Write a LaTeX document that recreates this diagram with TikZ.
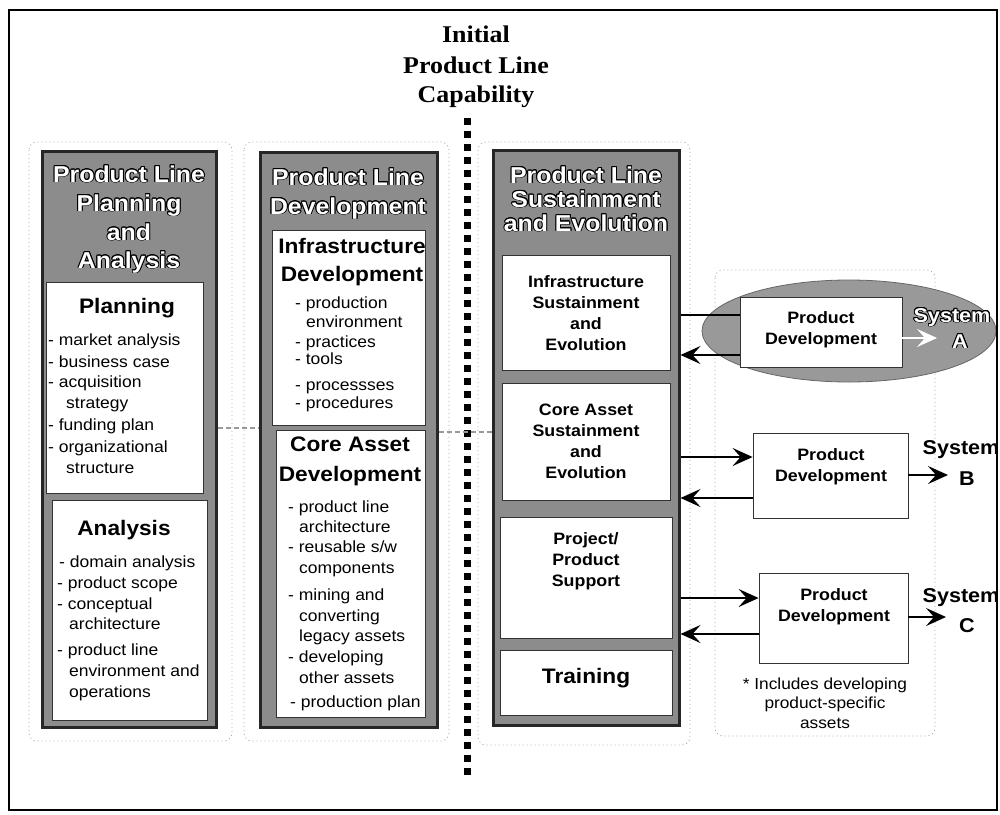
\documentclass[tikz,border=0pt]{standalone}
\usepackage{fontspec}
\setsansfont[FakeStretch=1.08]{Liberation Sans}
\newfontfamily\titlefont[FakeStretch=1.08]{Liberation Serif}
\usepackage{contour}
\contourlength{0.9pt}
\usetikzlibrary{arrows.meta,fit,shapes.geometric}
\newcommand\fsz[2]{\fontsize{#1}{#2}\selectfont}
\begin{document}
\begin{tikzpicture}[x=1pt,y=-1pt,
  col/.style={draw=black!85, line width=3pt, fill=black!45, inner sep=0pt},
  wbox/.style={draw=black!80, line width=0.8pt, fill=white, inner sep=0pt},
  hdr/.style={font=\sffamily\bfseries\fsz{23}{28}, text=white, anchor=base, inner sep=0pt},
  ttl/.style={font=\sffamily\bfseries\fsz{21}{28}, anchor=base, inner sep=0pt},
  itm/.style={font=\sffamily\fsz{16.2}{20}, anchor=base west, inner sep=0pt},
  ctr/.style={font=\sffamily\bfseries\fsz{16.5}{21}, align=center, anchor=north, inner sep=0pt},
  sys/.style={font=\sffamily\bfseries\fsz{20}{24}, anchor=base, inner sep=0pt},
  ttxt/.style={font=\titlefont\bfseries\fsz{24}{30}, anchor=base, inner sep=0pt},
  faint/.style={draw=black!35, line width=0.8pt, dash pattern=on 1pt off 3pt, rounded corners=8pt},
  conn/.style={line width=2.2pt, -{Stealth[length=20pt,width=18pt,inset=8pt]}},
  plainln/.style={line width=2.2pt},
  tabln/.style={draw=black!40, line width=2.5pt, dash pattern=on 5pt off 3pt}
]
\useasboundingbox (0,0) rectangle (1000,814);

% faint dotted regions
\draw[faint] (29,142) rectangle (232,741);
\draw[faint] (244,142) rectangle (449,741);
\draw[faint] (478,142) rectangle (690,745);
\draw[faint] (715,270) rectangle (935,736);

% initial capability marker
\node[ttxt] (t1) at (476,42) {Initial};
\node[ttxt] (t2) at (476,73) {Product Line};
\node[ttxt] (t3) at (476,102) {Capability};
\coordinate (dtop) at (467,118);
\coordinate (dbot) at (467,778);
\draw[line width=7pt, dash pattern=on 7pt off 6pt] (dtop) -- (dbot);

% ---------- column 1 ----------
\node[col, fit={(42,151) (216,727)}] (c1) {};
\node[hdr] (h1a) at (129,182) {\contour{black}{Product Line}};
\node[hdr] (h1b) at (129,211) {\contour{black}{Planning}};
\node[hdr] (h1c) at (129,240) {\contour{black}{and}};
\node[hdr] (h1d) at (129,268) {\contour{black}{Analysis}};
\node[wbox, fit={(46,282) (203,493)}] (plan) {};
\node[wbox, fit={(52,500) (207,720)}] (anal) {};
\node[ttl] (plant) at (127,313) {Planning};
\foreach \t/\x/\y [count=\i] in {{- market analysis}/48/345, {- business case}/48/367,
   {- acquisition}/48/387, {strategy}/66/408, {- funding plan}/48/430,
   {- organizational}/48/452, {structure}/66/473}
  \node[itm] (pl\i) at (\x,\y) {\t};
\node[ttl] (analt) at (124,535) {Analysis};
\foreach \t/\x/\y [count=\i] in {{- domain analysis}/59/567, {- product scope}/57/588,
   {- conceptual}/57/609, {architecture}/69/629, {- product line}/57/655,
   {environment and}/69/676, {operations}/69/697}
  \node[itm] (an\i) at (\x,\y) {\t};

% ---------- column 2 ----------
\node[col, fit={(260,152) (437,727)}] (c2) {};
\node[hdr] (h2a) at (348,185) {\contour{black}{Product Line}};
\node[hdr] (h2b) at (348,214) {\contour{black}{Development}};
\node[wbox, fit={(272,230) (425,425)}] (infd) {};
\node[wbox, fit={(276,430) (425,717)}] (cad) {};
\node[ttl] (infda) at (352,253) {Infrastructure};
\node[ttl] (infdb) at (352,281) {Development};
\foreach \t/\x/\y [count=\i] in {{- production}/295/308, {environment}/306/327,
   {- practices}/295/347, {- tools}/295/364, {- processses}/295/390, {- procedures}/295/408}
  \node[itm] (id\i) at (\x,\y) {\t};
\node[ttl] (cada) at (350,451) {Core Asset};
\node[ttl] (cadb) at (350,481) {Development};
\foreach \t/\x/\y [count=\i] in {{- product line}/288/512, {architecture}/299/532,
   {- reusable s/w}/288/552, {components}/299/573, {- mining and}/288/600,
   {converting}/299/621, {legacy assets}/299/641, {- developing}/288/662,
   {other assets}/299/683, {- production plan}/290/707}
  \node[itm] (cd\i) at (\x,\y) {\t};

% ---------- column 3 ----------
\node[col, fit={(493,150) (679,725)}] (c3) {};
\node[hdr] (h3a) at (586,183) {\contour{black}{Product Line}};
\node[hdr] (h3b) at (586,207) {\contour{black}{Sustainment}};
\node[hdr] (h3c) at (586,231) {\contour{black}{and Evolution}};
\node[wbox, fit={(502,255) (670,370)}] (isb) {};
\node[wbox, fit={(502,383) (670,500)}] (csb) {};
\node[wbox, fit={(500,517) (672,638)}] (ppb) {};
\node[wbox, fit={(500,650) (672,715)}] (trb) {};
\node[ctr] (ist) at (586,272.3) {\strut Infrastructure\\Sustainment\\and\\Evolution};
\node[ctr] (cst) at (586,400.3) {\strut Core Asset\\Sustainment\\and\\Evolution};
\node[ctr] (ppt) at (586,529.3) {\strut Project/\\Product\\Support};
\node[ttl] (trt) at (586,683) {Training};

% gray tabs between columns
\draw[tabln] (c1.east |- 0,428) -- (c2.west |- 0,428);
\draw[tabln] (c2.east |- 0,432) -- (c3.west |- 0,432);

% ---------- product development ----------
\node[ellipse, fill=black!40, draw=black!60, line width=0.8pt, minimum width=294pt,
      minimum height=102pt, inner sep=0pt] (ell) at (849,331) {};
\node[wbox, fit={(740,297) (902,367)}] (pda) {};
\node[wbox, fit={(753,433) (908,518)}] (pdb) {};
\node[wbox, fit={(759,573) (908,663)}] (pdc) {};
\node[ctr] (pdat) at (821,308.3) {\strut Product\\Development};
\node[ctr] (pdbt) at (831,445.3) {\strut Product\\Development};
\node[ctr] (pdct) at (834,585.3) {\strut Product\\Development};

\draw[plainln] (c3.east |- 0,315) -- (pda.west |- 0,315);
\draw[conn] (pda.west |- 0,355) -- (c3.east |- 0,355);
\draw[conn] (c3.east |- 0,457) -- (pdb.west |- 0,457);
\draw[conn] (pdb.west |- 0,498) -- (c3.east |- 0,498);
\draw[conn] (c3.east |- 0,598) -- (pdc.west |- 0,598);
\draw[conn] (pdc.west |- 0,634) -- (c3.east |- 0,634);

\coordinate (ea) at (937,338);
\coordinate (eb) at (948,475);
\coordinate (ec) at (946,617);
\draw[conn, draw=white, fill=white] (pda.east |- ea) -- (ea);
\draw[conn] (pdb.east |- eb) -- (eb);
\draw[conn] (pdc.east |- ec) -- (ec);

\node[sys, text=white] (sa1) at (952,322) {\contour{black}{System}};
\node[sys, text=white] (sa2) at (960,348) {\contour{black}{A}};
\node[sys] (sb1) at (961,454) {System};
\node[sys] (sb2) at (967,485) {B};
\node[sys] (sc1) at (961,602) {System};
\node[sys] (sc2) at (967,632) {C};

\node[font=\sffamily\fsz{16}{19.5}, align=center, anchor=north, inner sep=0pt] (note)
  at (825,675.4) {\strut * Includes developing\\product-specific\\assets};

% outer frame
\node[draw=black, line width=1.8pt, fit={(9,10) (997,810)}, inner sep=0pt] (frame) {};
\end{tikzpicture}
\end{document}
